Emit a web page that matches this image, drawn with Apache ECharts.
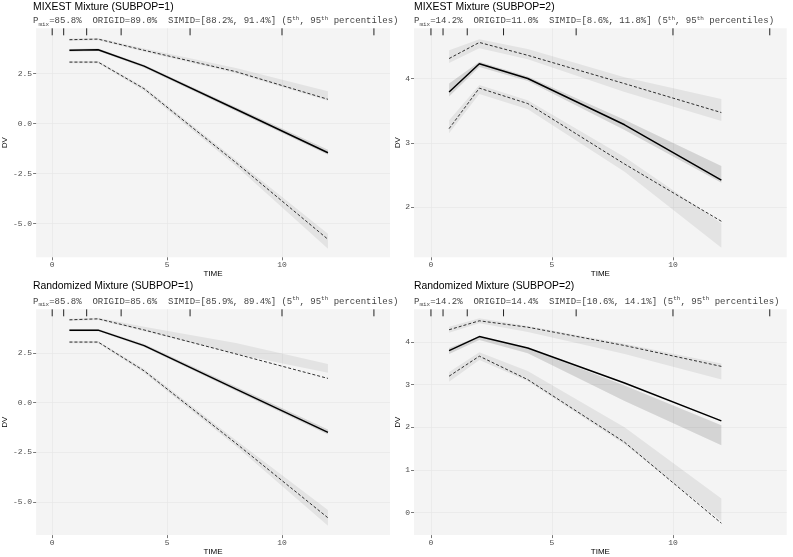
<!DOCTYPE html>
<html><head><meta charset="utf-8">
<script src="https://cdn.jsdelivr.net/npm/echarts@6/dist/echarts.min.js"></script>
<style>html,body{margin:0;padding:0;background:#fff}#c{width:793px;height:557px}</style>
</head><body><div id="c"></div>
<script>
// ---------- data ----------
const times = [0.75, 2, 4, 8, 12];
const rugTimes = [0, 0.5, 1.5, 3, 6, 10, 14];
const xTickValues = [0, 5, 10];
const yTicksLeft = [-5, -2.5, 0, 2.5];
const yTicksTopRight = [2, 3, 4];
const yTicksBottomRight = [0, 1, 2, 3, 4];
const panelTitles = ['MIXEST Mixture (SUBPOP=1)', 'MIXEST Mixture (SUBPOP=2)',
                     'Randomized Mixture (SUBPOP=1)', 'Randomized Mixture (SUBPOP=2)'];
const pmix = ['85.8%', '14.2%', '85.8%', '14.2%'];
const origid = ['89.0%', '11.0%', '85.6%', '14.4%'];
const simidLow = ['88.2%', '8.6%', '85.9%', '10.6%'];
const simidHigh = ['91.4%', '11.8%', '89.4%', '14.1%'];

// panel 1 : MIXEST, SUBPOP=1
const p1Median   = [3.67, 3.70, 2.88, 0.72, -1.45];
const p1MedianLo = [3.60, 3.63, 2.80, 0.62, -1.55];
const p1MedianHi = [3.73, 3.76, 2.95, 0.82, -1.30];
const p1Upper    = [4.20, 4.23, 3.67, 2.60, 1.22];
const p1UpperLo  = [4.14, 4.17, 3.60, 2.52, 1.15];
const p1UpperHi  = [4.26, 4.29, 3.76, 2.78, 1.62];
const p1Lower    = [3.08, 3.08, 1.75, -1.95, -5.78];
const p1LowerLo  = [3.02, 3.02, 1.65, -2.12, -6.25];
const p1LowerHi  = [3.14, 3.14, 1.83, -1.82, -5.50];

// panel 2 : MIXEST, SUBPOP=2
const p2Median   = [3.79, 4.23, 4.00, 3.28, 2.42];
const p2MedianLo = [3.72, 4.18, 3.96, 3.20, 2.38];
const p2MedianHi = [3.92, 4.26, 4.03, 3.36, 2.64];
const p2Upper    = [4.31, 4.56, 4.36, 3.92, 3.47];
const p2UpperLo  = [4.24, 4.47, 4.30, 3.79, 3.34];
const p2UpperHi  = [4.44, 4.61, 4.46, 4.02, 3.68];
const p2Lower    = [3.22, 3.85, 3.61, 2.67, 1.78];
const p2LowerLo  = [3.15, 3.76, 3.52, 2.55, 1.37];
const p2LowerHi  = [3.35, 3.90, 3.66, 2.78, 1.75];

// panel 3 : Randomized, SUBPOP=1
const p3Median   = [3.65, 3.65, 2.87, 0.68, -1.50];
const p3MedianLo = [3.59, 3.59, 2.80, 0.58, -1.60];
const p3MedianHi = [3.71, 3.71, 2.95, 0.80, -1.35];
const p3Upper    = [4.17, 4.22, 3.66, 2.45, 1.22];
const p3UpperLo  = [4.11, 4.16, 3.60, 2.45, 1.50];
const p3UpperHi  = [4.23, 4.28, 3.82, 3.00, 1.95];
const p3Lower    = [3.05, 3.05, 1.60, -2.05, -5.80];
const p3LowerLo  = [2.99, 2.99, 1.50, -2.20, -6.20];
const p3LowerHi  = [3.11, 3.11, 1.70, -1.90, -5.40];

// panel 4 : Randomized, SUBPOP=2
const p4Median   = [3.80, 4.13, 3.86, 3.04, 2.15];
const p4MedianLo = [3.72, 4.05, 3.74, 2.62, 1.58];
const p4MedianHi = [3.86, 4.14, 3.86, 2.98, 2.05];
const p4Upper    = [4.29, 4.50, 4.35, 3.92, 3.43];
const p4UpperLo  = [4.22, 4.44, 4.24, 3.72, 3.12];
const p4UpperHi  = [4.36, 4.56, 4.38, 3.96, 3.50];
const p4Lower    = [3.20, 3.67, 3.12, 1.65, -0.25];
const p4LowerLo  = [3.07, 3.58, 3.08, 1.60, -0.20];
const p4LowerHi  = [3.30, 3.76, 3.32, 2.00, 0.33];

// ---------- layout ----------
const panels = [
  {median:p1Median, mLo:p1MedianLo, mHi:p1MedianHi, up:p1Upper, uLo:p1UpperLo, uHi:p1UpperHi, lo:p1Lower, lLo:p1LowerLo, lHi:p1LowerHi, yTicks:yTicksLeft, dec:1,
   left:33, top:28.3, width:357, height:229, ymin:-6.68, ymax:4.77, nameGap:20, titleY:7.5, annY:21},
  {median:p2Median, mLo:p2MedianLo, mHi:p2MedianHi, up:p2Upper, uLo:p2UpperLo, uHi:p2UpperHi, lo:p2Lower, lLo:p2LowerLo, lHi:p2LowerHi, yTicks:yTicksTopRight, dec:0,
   left:414, top:28.3, width:372.7, height:229, ymin:1.22, ymax:4.78, nameGap:6.5, titleY:7.5, annY:21},
  {median:p3Median, mLo:p3MedianLo, mHi:p3MedianHi, up:p3Upper, uLo:p3UpperLo, uHi:p3UpperHi, lo:p3Lower, lLo:p3LowerLo, lHi:p3LowerHi, yTicks:yTicksLeft, dec:1,
   left:33, top:309.3, width:357, height:227.4, ymin:-6.67, ymax:4.70, nameGap:20, titleY:286, annY:301.5},
  {median:p4Median, mLo:p4MedianLo, mHi:p4MedianHi, up:p4Upper, uLo:p4UpperLo, uHi:p4UpperHi, lo:p4Lower, lLo:p4LowerLo, lHi:p4LowerHi, yTicks:yTicksBottomRight, dec:0,
   left:414, top:309.3, width:372.7, height:227.4, ymin:-0.53, ymax:4.77, nameGap:6.5, titleY:286, annY:301.5}
];

const MONO = 'Liberation Mono';
const SANS = 'Liberation Sans';
const grids = [], xAxes = [], yAxes = [], series = [], graphics = [];

function bandSeries(gi, loArr, hiArr, color) {
  return {
    type: 'custom', xAxisIndex: gi, yAxisIndex: gi, silent: true, z: 1,
    data: times.map((t, i) => [t, loArr[i], hiArr[i]]),
    encode: { x: 0, y: [1, 2] },
    renderItem: function (params, api) {
      if (params.dataIndex !== 0) return null;
      const pts = [];
      for (let i = 0; i < times.length; i++) pts.push(api.coord([times[i], hiArr[i]]));
      for (let i = times.length - 1; i >= 0; i--) pts.push(api.coord([times[i], loArr[i]]));
      return { type: 'polygon', shape: { points: pts }, style: { fill: color } };
    }
  };
}
function lineSeries(gi, arr, width, type) {
  return {
    type: 'line', xAxisIndex: gi, yAxisIndex: gi, silent: true, z: 3,
    data: times.map((t, i) => [t, arr[i]]), symbol: 'none',
    lineStyle: { color: '#000', width: width, type: type }
  };
}

panels.forEach((p, gi) => {
  grids.push({ left: p.left, top: p.top, width: p.width, height: p.height, show: true,
               backgroundColor: '#f4f4f4', borderWidth: 0 });
  xAxes.push({
    type: 'value', gridIndex: gi, min: -0.7, max: 14.7, position: 'bottom',
    axisLine: { show: false, onZero: false },
    axisTick: { show: true, customValues: xTickValues, length: 3, lineStyle: { color: '#555', width: 0.8 } },
    axisLabel: { customValues: xTickValues, fontFamily: MONO, fontSize: 8, color: '#4d4d4d', margin: 4 },
    splitLine: { show: true, lineStyle: { color: '#e6e6e6', width: 0.7 } },
    name: 'TIME', nameLocation: 'middle', nameGap: 11.5,
    nameTextStyle: { fontFamily: SANS, fontSize: 8, color: '#000' }
  });
  yAxes.push({
    type: 'value', gridIndex: gi, min: p.ymin, max: p.ymax, position: 'left',
    axisLine: { show: false, onZero: false },
    axisTick: { show: true, customValues: p.yTicks, length: 3, lineStyle: { color: '#555', width: 0.8 } },
    axisLabel: { customValues: p.yTicks, fontFamily: MONO, fontSize: 8, color: '#4d4d4d', margin: 4,
                 formatter: v => Number(v).toFixed(p.dec) },
    splitLine: { show: true, lineStyle: { color: '#e6e6e6', width: 0.7 } },
    name: 'DV', nameLocation: 'middle', nameGap: p.nameGap, nameRotate: 90,
    nameTextStyle: { fontFamily: SANS, fontSize: 8, color: '#000' }
  });

  series.push(bandSeries(gi, p.uLo, p.uHi, 'rgba(0,0,0,0.065)'));
  series.push(bandSeries(gi, p.lLo, p.lHi, 'rgba(0,0,0,0.065)'));
  series.push(bandSeries(gi, p.mLo, p.mHi, 'rgba(0,0,0,0.13)'));
  series.push(lineSeries(gi, p.up, 0.8, [3, 2]));
  series.push(lineSeries(gi, p.lo, 0.8, [3, 2]));
  series.push(lineSeries(gi, p.median, 1.5, 'solid'));
  series.push({
    type: 'custom', xAxisIndex: gi, yAxisIndex: gi, silent: true, z: 4,
    data: rugTimes.map(t => [t]), encode: { x: 0 },
    renderItem: function (params, api) {
      const x = api.coord([api.value(0), p.ymax])[0];
      const top = params.coordSys.y;
      return { type: 'line', shape: { x1: x, y1: top, x2: x, y2: top + 7 },
               style: { stroke: '#222', lineWidth: 1 } };
    }
  });

  graphics.push({
    type: 'text', x: p.left, y: p.titleY, silent: true,
    style: { text: panelTitles[gi], fontFamily: SANS, fontSize: 10.4, fill: '#000',
             align: 'left', verticalAlign: 'middle' }
  });
  graphics.push({
    type: 'text', x: p.left, y: p.annY, silent: true,
    style: {
      text: '{m|P}{s|mix}{m|=' + pmix[gi] + '  ORIGID=' + origid[gi] + '  SIMID=[' + simidLow[gi] + ', ' +
            simidHigh[gi] + '] (5}{u|th}{m|, 95}{u|th}{m| percentiles)}',
      align: 'left', verticalAlign: 'middle',
      rich: {
        m: { fontFamily: MONO, fontSize: 9, lineHeight: 12, fill: '#444' },
        s: { fontFamily: MONO, fontSize: 6, lineHeight: 6, verticalAlign: 'bottom', fill: '#444' },
        u: { fontFamily: MONO, fontSize: 6, lineHeight: 6, verticalAlign: 'top', fill: '#444' }
      }
    }
  });
});

const chart = echarts.init(document.getElementById('c'), null, { renderer: 'canvas' });
chart.setOption({
  animation: false,
  backgroundColor: '#ffffff',
  grid: grids, xAxis: xAxes, yAxis: yAxes, series: series, graphic: graphics
});
</script></body></html>
